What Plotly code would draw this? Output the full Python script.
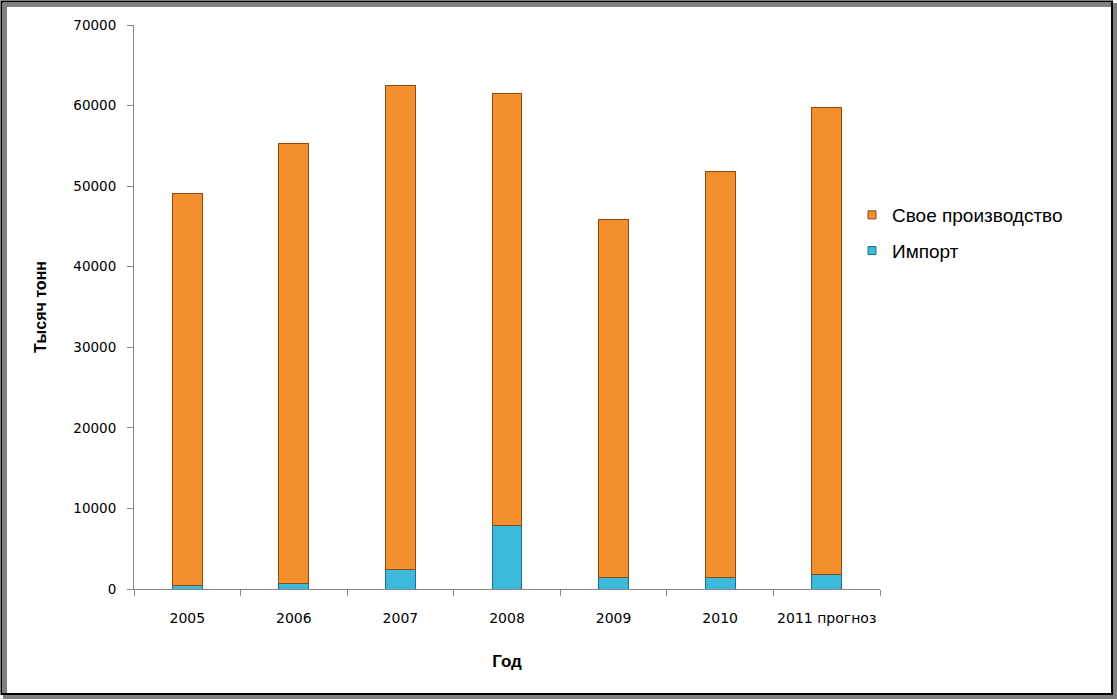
import plotly.graph_objects as go

years = ["2005", "2006", "2007", "2008", "2009", "2010", "2011 прогноз"]
import_vals = [400, 700, 2450, 7900, 1450, 1450, 1820]
own_vals = [48700, 54650, 60000, 53550, 44350, 50430, 58000]
y_ticks = [0, 10000, 20000, 30000, 40000, 50000, 60000, 70000]

W, H = 1117, 700
L, R, T, B = 134, 237, 25, 111
pw, ph = W - L - R, H - T - B

def px(x):
    return (x - L) / pw

def py(y):
    return (H - B - y) / ph

ORANGE = "#F48F2E"
CYAN = "#3BBADB"

fig = go.Figure()
fig.add_trace(go.Bar(
    x=years, y=import_vals, name="Импорт", showlegend=False,
    marker=dict(color=CYAN, line=dict(color="#1F6F86", width=1)),
))
fig.add_trace(go.Bar(
    x=years, y=own_vals, name="Свое производство", showlegend=False,
    marker=dict(color=ORANGE, line=dict(color="#8A4A12", width=1)),
))
# legend entries with small square symbols
fig.add_trace(go.Scatter(
    x=[None], y=[None], mode="markers", name="Свое производство", legendgroup="a",
    marker=dict(symbol="square", size=8, color=ORANGE, line=dict(color="#8A4A12", width=1)),
))
fig.add_trace(go.Scatter(
    x=[None], y=[None], mode="markers", name="Импорт", legendgroup="b",
    marker=dict(symbol="square", size=8, color=CYAN, line=dict(color="#1F6F86", width=1)),
))

font = "Liberation Sans"
fig.update_layout(
    barmode="stack",
    bargap=0.72,
    width=W, height=H,
    margin=dict(l=L, r=R, t=T, b=B, autoexpand=False),
    paper_bgcolor="white",
    plot_bgcolor="white",
    font=dict(family=font, color="black"),
    showlegend=True,
    legend=dict(
        x=px(852), y=py(233), xanchor="left", yanchor="middle",
        traceorder="grouped",
        font=dict(size=19, family=font),
        itemwidth=30,
        tracegroupgap=8,
        bgcolor="rgba(0,0,0,0)",
    ),
    xaxis=dict(
        showline=True, linecolor="#868686", linewidth=1,
        ticks="outside", tickson="boundaries", ticklen=6, tickcolor="#868686",
        tickangle=0, automargin=False, ticklabelstandoff=16,
        tickfont=dict(size=14, family="DejaVu Sans"),
        title=dict(text="<b>Год</b>", font=dict(size=17, family=font), standoff=30),
    ),
    yaxis=dict(
        range=[0, 70000],
        tickvals=y_ticks,
        tickformat="d",
        automargin=False, ticklabelstandoff=8,
        showline=True, linecolor="#868686", linewidth=1,
        ticks="outside", ticklen=6, tickcolor="#868686",
        showgrid=False, zeroline=False,
        tickfont=dict(size=13.5, family="DejaVu Sans"),
        title=dict(text="<b>Тысяч тонн</b>", font=dict(size=16, family=font), standoff=22),
    ),
    shapes=[
        dict(type="rect", xref="paper", yref="paper",
             x0=px(5), x1=px(1115), y0=py(697), y1=py(5),
             line=dict(color="#808080", width=4), layer="below"),
        dict(type="rect", xref="paper", yref="paper",
             x0=px(1.5), x1=px(1112), y0=py(694), y1=py(1.5),
             line=dict(color="black", width=2), layer="below"),
    ],
)

fig.write_html("out.html", config={"displayModeBar": False},
               post_script="document.body.style.margin='0';document.body.style.overflow='hidden';")
